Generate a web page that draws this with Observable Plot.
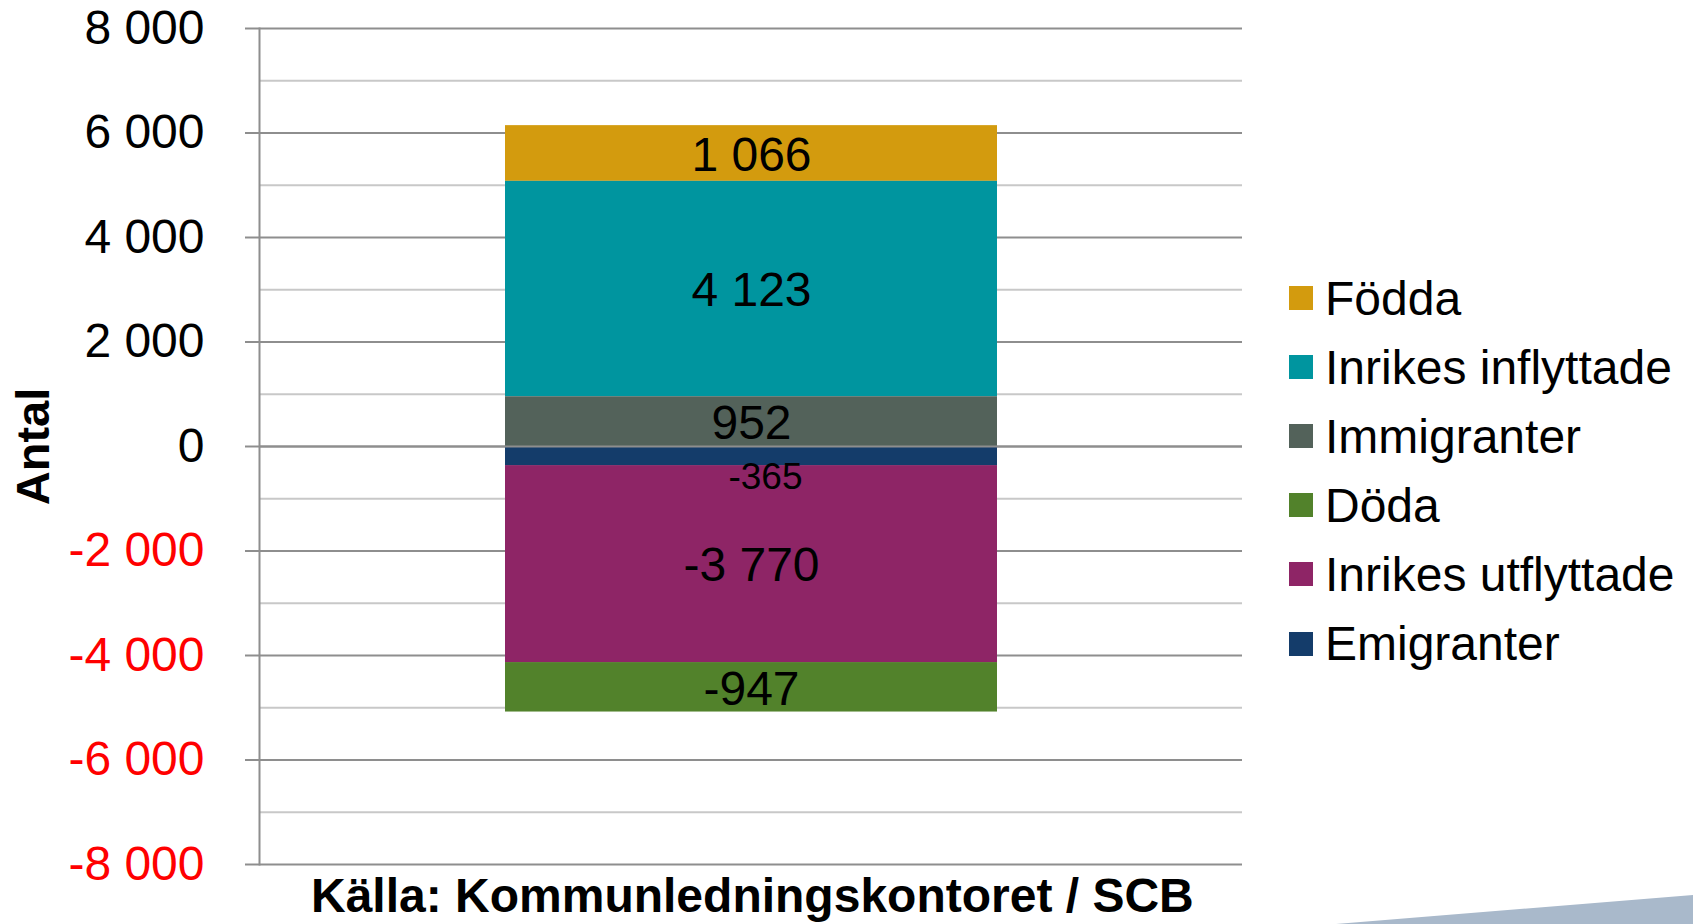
<!DOCTYPE html>
<html>
<head>
<meta charset="utf-8">
<script src="https://cdn.jsdelivr.net/npm/d3@7"></script>
<script src="https://cdn.jsdelivr.net/npm/@observablehq/plot@0.6"></script>
<style>
  body { margin: 0; background: #fff; font-family: "Liberation Sans", Arial, sans-serif; }
  #wrap { position: relative; width: 1693px; height: 924px; overflow: hidden; background: #fff; }
  #chart { position: absolute; left: 0; top: 0; }
  #chart svg { overflow: visible; }
  .item { position: absolute; left: 1289px; height: 60px; display: flex; align-items: center; white-space: nowrap; font-size: 48px; color: #000; }
  .sw { width: 24px; height: 24px; margin-right: 12px; flex: none; }
  #caption { position: absolute; left: 311px; top: 872px; font-size: 48px; line-height: 48px; font-weight: bold; color: #000; white-space: nowrap; }
  #wedge { position: absolute; left: 1336px; top: 895px; width: 357px; height: 29px; background: #a9b9cb; clip-path: polygon(0 100%, 100% 0, 100% 100%); }
</style>
</head>
<body>
<div id="wrap">
  <div id="chart"></div>
  <div id="legend"></div>
  <div id="caption"></div>
  <div id="wedge"></div>
</div>
<script>
// ---- data ----
const category = ["Befolkningsförändring"];
const series = ["Födda", "Inrikes inflyttade", "Immigranter", "Döda", "Inrikes utflyttade", "Emigranter"]; // legend order
const values = [1066, 4123, 952, -947, -3770, -365];
const colors = ["#d39b0e", "#00959f", "#53625a", "#52822b", "#8e2566", "#143c6a"];
const stackOrder = ["Immigranter", "Inrikes inflyttade", "Födda", "Emigranter", "Inrikes utflyttade", "Döda"];
const yTicks = [-8000, -6000, -4000, -2000, 0, 2000, 4000, 6000, 8000];
const yMinorTicks = [-7000, -5000, -3000, -1000, 1000, 3000, 5000, 7000];
const yLabel = "Antal";
const captionText = "Källa: Kommunledningskontoret / SCB";

// ---- build ----
const data = series.map((s, i) => ({cat: category[0], serie: s, value: values[i]}));
const fmt = d3.formatLocale({decimal: ",", thousands: "\u00a0", grouping: [3], currency: ["", ""], minus: "-"}).format(",d");
const FONT = '"Liberation Sans", Arial, sans-serif';
const GRID = "#8e8e8e";
const MINOR = "#c8c8c8";

const chart = Plot.plot({
  width: 1693,
  height: 880,
  marginLeft: 259,
  marginRight: 451,
  marginTop: 28,
  marginBottom: 16,
  style: {fontFamily: FONT, background: "transparent", overflow: "visible"},
  x: {domain: category, padding: 0.333, axis: null},
  y: {domain: [-8000, 8000], axis: null},
  color: {domain: series, range: colors},
  marks: [
    Plot.ruleY(yMinorTicks, {stroke: MINOR, strokeWidth: 2}),
    Plot.ruleY(yTicks, {stroke: GRID, strokeWidth: 2}),
    Plot.axisY(yTicks.filter(d => d >= 0), {tickSize: 14, tickPadding: 41, tickFormat: fmt, fontSize: 48, fill: "#000", stroke: GRID, strokeWidth: 2, label: null}),
    Plot.axisY(yTicks.filter(d => d < 0), {tickSize: 14, tickPadding: 41, tickFormat: fmt, fontSize: 48, fill: "#ff0000", stroke: GRID, strokeWidth: 2, label: null}),
    Plot.frame({anchor: "left", stroke: GRID, strokeWidth: 2}),
    Plot.barY(data, Plot.stackY({x: "cat", y: "value", fill: "serie", order: stackOrder})),
    Plot.ruleY([0], {stroke: GRID, strokeWidth: 2}),
    Plot.text(data, Plot.stackY({x: "cat", y: "value", z: "serie", order: stackOrder,
      text: d => Math.abs(d.value) >= 500 ? fmt(d.value) : null, fontSize: 48, fill: "#000", dy: 2})),
    Plot.text(data, Plot.stackY({x: "cat", y: "value", z: "serie", order: stackOrder,
      text: d => Math.abs(d.value) < 500 ? fmt(d.value) : null, fontSize: 37, fill: "#000", dx: 14, dy: 21})),
    Plot.text([yLabel], {frameAnchor: "left", textAnchor: "middle", dx: -226, rotate: -90, fontSize: 47, fontWeight: "bold", fill: "#000"})
  ]
});
document.getElementById("chart").appendChild(chart);

// legend
const legend = document.getElementById("legend");
series.forEach((s, i) => {
  const item = document.createElement("div");
  item.className = "item";
  item.style.top = (298 + i * 69.1 - 30) + "px";
  const sw = document.createElement("div");
  sw.className = "sw";
  sw.style.background = colors[i];
  const t = document.createElement("span");
  t.textContent = s;
  item.appendChild(sw);
  item.appendChild(t);
  legend.appendChild(item);
});
document.getElementById("caption").textContent = captionText;
</script>
</body>
</html>
